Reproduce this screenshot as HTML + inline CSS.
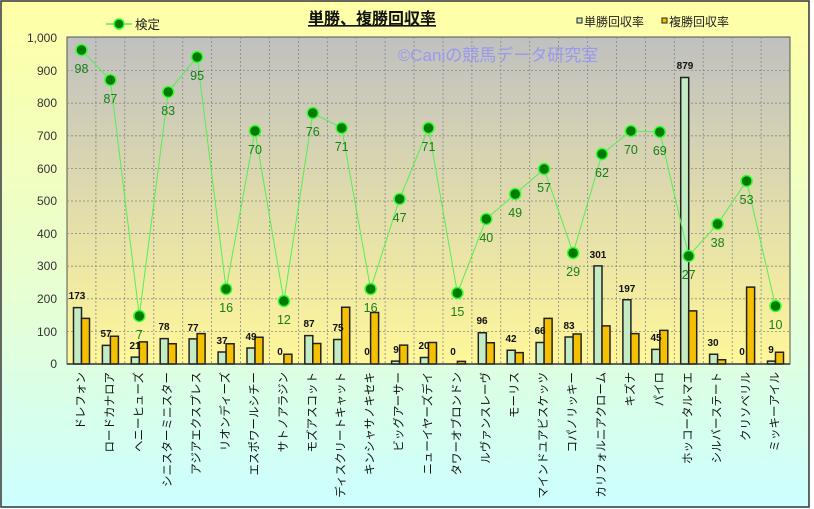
<!DOCTYPE html>
<html><head><meta charset="utf-8"><style>
body{margin:0;padding:0;width:814px;height:509px;overflow:hidden;background:#fff}
svg{display:block;font-family:"Liberation Sans","Noto Sans CJK JP",sans-serif}
</style></head><body>
<svg width="814" height="509" viewBox="0 0 814 509">
<defs>
<linearGradient id="bg" x1="0" y1="0" x2="0" y2="1"><stop offset="0" stop-color="#ffffa6"/><stop offset="0.55" stop-color="#e8ffd0"/><stop offset="1" stop-color="#ccffff"/></linearGradient>
<linearGradient id="pa" x1="0" y1="0" x2="0" y2="1"><stop offset="0" stop-color="#c0c0c0"/><stop offset="1" stop-color="#fff799"/></linearGradient>
</defs>
<rect x="1" y="1" width="808" height="506" fill="url(#bg)" stroke="#333" stroke-width="1.5"/>
<rect x="67" y="37" width="723" height="327" fill="url(#pa)" stroke="#555" stroke-width="1"/>
<g stroke="#888" stroke-width="0.8" stroke-dasharray="2,2">
<line x1="67" x2="790" y1="70.6" y2="70.6"/><line x1="67" x2="790" y1="103.2" y2="103.2"/><line x1="67" x2="790" y1="135.8" y2="135.8"/><line x1="67" x2="790" y1="168.4" y2="168.4"/><line x1="67" x2="790" y1="201" y2="201"/><line x1="67" x2="790" y1="233.6" y2="233.6"/><line x1="67" x2="790" y1="266.2" y2="266.2"/><line x1="67" x2="790" y1="298.8" y2="298.8"/><line x1="67" x2="790" y1="331.4" y2="331.4"/>
<line y1="37" y2="364" x1="95.9" x2="95.9"/><line y1="37" y2="364" x1="124.8" x2="124.8"/><line y1="37" y2="364" x1="153.8" x2="153.8"/><line y1="37" y2="364" x1="182.7" x2="182.7"/><line y1="37" y2="364" x1="211.6" x2="211.6"/><line y1="37" y2="364" x1="240.5" x2="240.5"/><line y1="37" y2="364" x1="269.4" x2="269.4"/><line y1="37" y2="364" x1="298.4" x2="298.4"/><line y1="37" y2="364" x1="327.3" x2="327.3"/><line y1="37" y2="364" x1="356.2" x2="356.2"/><line y1="37" y2="364" x1="385.1" x2="385.1"/><line y1="37" y2="364" x1="414" x2="414"/><line y1="37" y2="364" x1="443" x2="443"/><line y1="37" y2="364" x1="471.9" x2="471.9"/><line y1="37" y2="364" x1="500.8" x2="500.8"/><line y1="37" y2="364" x1="529.7" x2="529.7"/><line y1="37" y2="364" x1="558.6" x2="558.6"/><line y1="37" y2="364" x1="587.6" x2="587.6"/><line y1="37" y2="364" x1="616.5" x2="616.5"/><line y1="37" y2="364" x1="645.4" x2="645.4"/><line y1="37" y2="364" x1="674.3" x2="674.3"/><line y1="37" y2="364" x1="703.2" x2="703.2"/><line y1="37" y2="364" x1="732.2" x2="732.2"/><line y1="37" y2="364" x1="761.1" x2="761.1"/>
</g>
<g font-size="12" fill="#333" text-anchor="end">
<text x="57" y="42">1,000</text><text x="57" y="75">900</text><text x="57" y="107">800</text><text x="57" y="140">700</text><text x="57" y="173">600</text><text x="57" y="205">500</text><text x="57" y="238">400</text><text x="57" y="270">300</text><text x="57" y="303">200</text><text x="57" y="336">100</text><text x="57" y="368">0</text>
</g>
<text x="498" y="61" font-size="17" fill="#9999ee" text-anchor="middle">©Caniの競馬データ研究室</text>
<g transform="translate(0,364) scale(1,-0.326)" stroke="#222" stroke-width="1.5">
<g fill="#c4ecc4">
<rect x="73.5" y="0" width="8" height="173" vector-effect="non-scaling-stroke"/>
<rect x="102.4" y="0" width="8" height="57" vector-effect="non-scaling-stroke"/>
<rect x="131.3" y="0" width="8" height="21" vector-effect="non-scaling-stroke"/>
<rect x="160.2" y="0" width="8" height="78" vector-effect="non-scaling-stroke"/>
<rect x="189.1" y="0" width="8" height="77" vector-effect="non-scaling-stroke"/>
<rect x="218.1" y="0" width="8" height="37" vector-effect="non-scaling-stroke"/>
<rect x="247" y="0" width="8" height="49" vector-effect="non-scaling-stroke"/>
<rect x="304.8" y="0" width="8" height="87" vector-effect="non-scaling-stroke"/>
<rect x="333.7" y="0" width="8" height="75" vector-effect="non-scaling-stroke"/>
<rect x="391.6" y="0" width="8" height="9" vector-effect="non-scaling-stroke"/>
<rect x="420.5" y="0" width="8" height="20" vector-effect="non-scaling-stroke"/>
<rect x="478.3" y="0" width="8" height="96" vector-effect="non-scaling-stroke"/>
<rect x="507.2" y="0" width="8" height="42" vector-effect="non-scaling-stroke"/>
<rect x="536.1" y="0" width="8" height="66" vector-effect="non-scaling-stroke"/>
<rect x="565.1" y="0" width="8" height="83" vector-effect="non-scaling-stroke"/>
<rect x="594" y="0" width="8" height="301" vector-effect="non-scaling-stroke"/>
<rect x="622.9" y="0" width="8" height="197" vector-effect="non-scaling-stroke"/>
<rect x="651.8" y="0" width="8" height="45" vector-effect="non-scaling-stroke"/>
<rect x="680.7" y="0" width="8" height="879" vector-effect="non-scaling-stroke"/>
<rect x="709.6" y="0" width="8" height="30" vector-effect="non-scaling-stroke"/>
<rect x="767.5" y="0" width="8" height="9" vector-effect="non-scaling-stroke"/>
</g>
<g fill="#f5c000">
<rect x="81.5" y="0" width="8" height="140" vector-effect="non-scaling-stroke"/>
<rect x="110.4" y="0" width="8" height="85" vector-effect="non-scaling-stroke"/>
<rect x="139.3" y="0" width="8" height="68" vector-effect="non-scaling-stroke"/>
<rect x="168.2" y="0" width="8" height="62" vector-effect="non-scaling-stroke"/>
<rect x="197.1" y="0" width="8" height="93" vector-effect="non-scaling-stroke"/>
<rect x="226.1" y="0" width="8" height="62" vector-effect="non-scaling-stroke"/>
<rect x="255" y="0" width="8" height="82" vector-effect="non-scaling-stroke"/>
<rect x="283.9" y="0" width="8" height="30" vector-effect="non-scaling-stroke"/>
<rect x="312.8" y="0" width="8" height="63" vector-effect="non-scaling-stroke"/>
<rect x="341.7" y="0" width="8" height="174" vector-effect="non-scaling-stroke"/>
<rect x="370.6" y="0" width="8" height="158" vector-effect="non-scaling-stroke"/>
<rect x="399.6" y="0" width="8" height="58" vector-effect="non-scaling-stroke"/>
<rect x="428.5" y="0" width="8" height="66" vector-effect="non-scaling-stroke"/>
<rect x="457.4" y="0" width="8" height="8" vector-effect="non-scaling-stroke"/>
<rect x="486.3" y="0" width="8" height="65" vector-effect="non-scaling-stroke"/>
<rect x="515.2" y="0" width="8" height="35" vector-effect="non-scaling-stroke"/>
<rect x="544.1" y="0" width="8" height="140" vector-effect="non-scaling-stroke"/>
<rect x="573.1" y="0" width="8" height="92" vector-effect="non-scaling-stroke"/>
<rect x="602" y="0" width="8" height="117" vector-effect="non-scaling-stroke"/>
<rect x="630.9" y="0" width="8" height="93" vector-effect="non-scaling-stroke"/>
<rect x="659.8" y="0" width="8" height="103" vector-effect="non-scaling-stroke"/>
<rect x="688.7" y="0" width="8" height="163" vector-effect="non-scaling-stroke"/>
<rect x="717.6" y="0" width="8" height="13" vector-effect="non-scaling-stroke"/>
<rect x="746.6" y="0" width="8" height="236" vector-effect="non-scaling-stroke"/>
<rect x="775.5" y="0" width="8" height="36" vector-effect="non-scaling-stroke"/>
</g>
</g>
<line x1="67" x2="790" y1="364" y2="364" stroke="#333" stroke-width="1.5"/>
<g font-size="10" font-weight="bold" fill="#111" text-anchor="middle">
<text x="77" y="299">173</text><text x="106" y="337">57</text><text x="135" y="349">21</text><text x="164" y="330">78</text><text x="193" y="331">77</text><text x="222" y="344">37</text><text x="251" y="340">49</text><text x="280" y="355">0</text><text x="309" y="327">87</text><text x="338" y="331">75</text><text x="367" y="355">0</text><text x="396" y="353">9</text><text x="424" y="349">20</text><text x="453" y="355">0</text><text x="482" y="324">96</text><text x="511" y="342">42</text><text x="540" y="334">66</text><text x="569" y="329">83</text><text x="598" y="258">301</text><text x="627" y="292">197</text><text x="656" y="341">45</text><text x="685" y="69">879</text><text x="713" y="346">30</text><text x="742" y="355">0</text><text x="771" y="353">9</text>
</g>
<polyline fill="none" stroke="#55ee55" stroke-width="1" points="81.5,50 110.4,80 139.3,316 168.2,92 197.1,57 226.1,289 255,131 283.9,301 312.8,113 341.7,128 370.6,289 399.6,199 428.5,128 457.4,293 486.3,219 515.2,194 544.1,169 573.1,253 602,154 630.9,131 659.8,132 688.7,256 717.6,224 746.6,181 775.5,306"/>
<g fill="#007a00" stroke="#33ff33" stroke-width="1.5">
<circle cx="81.5" cy="50" r="5.5"/><circle cx="110.4" cy="80" r="5.5"/><circle cx="139.3" cy="316" r="5.5"/><circle cx="168.2" cy="92" r="5.5"/><circle cx="197.1" cy="57" r="5.5"/><circle cx="226.1" cy="289" r="5.5"/><circle cx="255" cy="131" r="5.5"/><circle cx="283.9" cy="301" r="5.5"/><circle cx="312.8" cy="113" r="5.5"/><circle cx="341.7" cy="128" r="5.5"/><circle cx="370.6" cy="289" r="5.5"/><circle cx="399.6" cy="199" r="5.5"/><circle cx="428.5" cy="128" r="5.5"/><circle cx="457.4" cy="293" r="5.5"/><circle cx="486.3" cy="219" r="5.5"/><circle cx="515.2" cy="194" r="5.5"/><circle cx="544.1" cy="169" r="5.5"/><circle cx="573.1" cy="253" r="5.5"/><circle cx="602" cy="154" r="5.5"/><circle cx="630.9" cy="131" r="5.5"/><circle cx="659.8" cy="132" r="5.5"/><circle cx="688.7" cy="256" r="5.5"/><circle cx="717.6" cy="224" r="5.5"/><circle cx="746.6" cy="181" r="5.5"/><circle cx="775.5" cy="306" r="5.5"/>
</g>
<g font-size="12.5" fill="#168016" text-anchor="middle">
<text x="81.5" y="73">98</text><text x="110.4" y="103">87</text><text x="139.3" y="339">7</text><text x="168.2" y="115">83</text><text x="197.1" y="80">95</text><text x="226.1" y="312">16</text><text x="255" y="154">70</text><text x="283.9" y="324">12</text><text x="312.8" y="136">76</text><text x="341.7" y="151">71</text><text x="370.6" y="312">16</text><text x="399.6" y="222">47</text><text x="428.5" y="151">71</text><text x="457.4" y="316">15</text><text x="486.3" y="242">40</text><text x="515.2" y="217">49</text><text x="544.1" y="192">57</text><text x="573.1" y="276">29</text><text x="602" y="177">62</text><text x="630.9" y="154">70</text><text x="659.8" y="155">69</text><text x="688.7" y="279">27</text><text x="717.6" y="247">38</text><text x="746.6" y="204">53</text><text x="775.5" y="329">10</text>
</g>
<g font-size="11.5" fill="#111" text-anchor="end" dominant-baseline="central">
<text transform="translate(81.5,372) rotate(-90)">ドレフォン</text>
<text transform="translate(110.4,372) rotate(-90)">ロードカナロア</text>
<text transform="translate(139.3,372) rotate(-90)">ヘニーヒューズ</text>
<text transform="translate(168.2,372) rotate(-90)">シニスターミニスター</text>
<text transform="translate(197.1,372) rotate(-90)">アジアエクスプレス</text>
<text transform="translate(226.1,372) rotate(-90)">リオンディーズ</text>
<text transform="translate(255,372) rotate(-90)">エスポワールシチー</text>
<text transform="translate(283.9,372) rotate(-90)">サトノアラジン</text>
<text transform="translate(312.8,372) rotate(-90)">モズアスコット</text>
<text transform="translate(341.7,372) rotate(-90)">ディスクリートキャット</text>
<text transform="translate(370.6,372) rotate(-90)">キンシャサノキセキ</text>
<text transform="translate(399.6,372) rotate(-90)">ビッグアーサー</text>
<text transform="translate(428.5,372) rotate(-90)">ニューイヤーズデイ</text>
<text transform="translate(457.4,372) rotate(-90)">タワーオブロンドン</text>
<text transform="translate(486.3,372) rotate(-90)">ルヴァンスレーヴ</text>
<text transform="translate(515.2,372) rotate(-90)">モーリス</text>
<text transform="translate(544.1,372) rotate(-90)">マインドユアビスケッツ</text>
<text transform="translate(573.1,372) rotate(-90)">コパノリッキー</text>
<text transform="translate(602,372) rotate(-90)">カリフォルニアクローム</text>
<text transform="translate(630.9,372) rotate(-90)">キズナ</text>
<text transform="translate(659.8,372) rotate(-90)">パイロ</text>
<text transform="translate(688.7,372) rotate(-90)">ホッコータルマエ</text>
<text transform="translate(717.6,372) rotate(-90)">シルバーステート</text>
<text transform="translate(746.6,372) rotate(-90)">クリソベリル</text>
<text transform="translate(775.5,372) rotate(-90)">ミッキーアイル</text>
</g>
<text x="372" y="24" font-size="16" font-weight="bold" fill="#111" text-anchor="middle" text-decoration="underline">単勝、複勝回収率</text>
<line x1="106" x2="132" y1="24" y2="24" stroke="#55ee55" stroke-width="1.5"/>
<circle cx="119" cy="24" r="5" fill="#007a00" stroke="#33ff33" stroke-width="1.5"/>
<text x="135" y="29" font-size="12.5" fill="#222">検定</text>
<rect x="577" y="18" width="5" height="5" fill="#c4ecc4" stroke="#222"/>
<text x="584" y="26" font-size="12" fill="#222">単勝回収率</text>
<rect x="662" y="18" width="5" height="5" fill="#f5c000" stroke="#222"/>
<text x="669" y="26" font-size="12" fill="#222">複勝回収率</text>
</svg>
</body></html>
